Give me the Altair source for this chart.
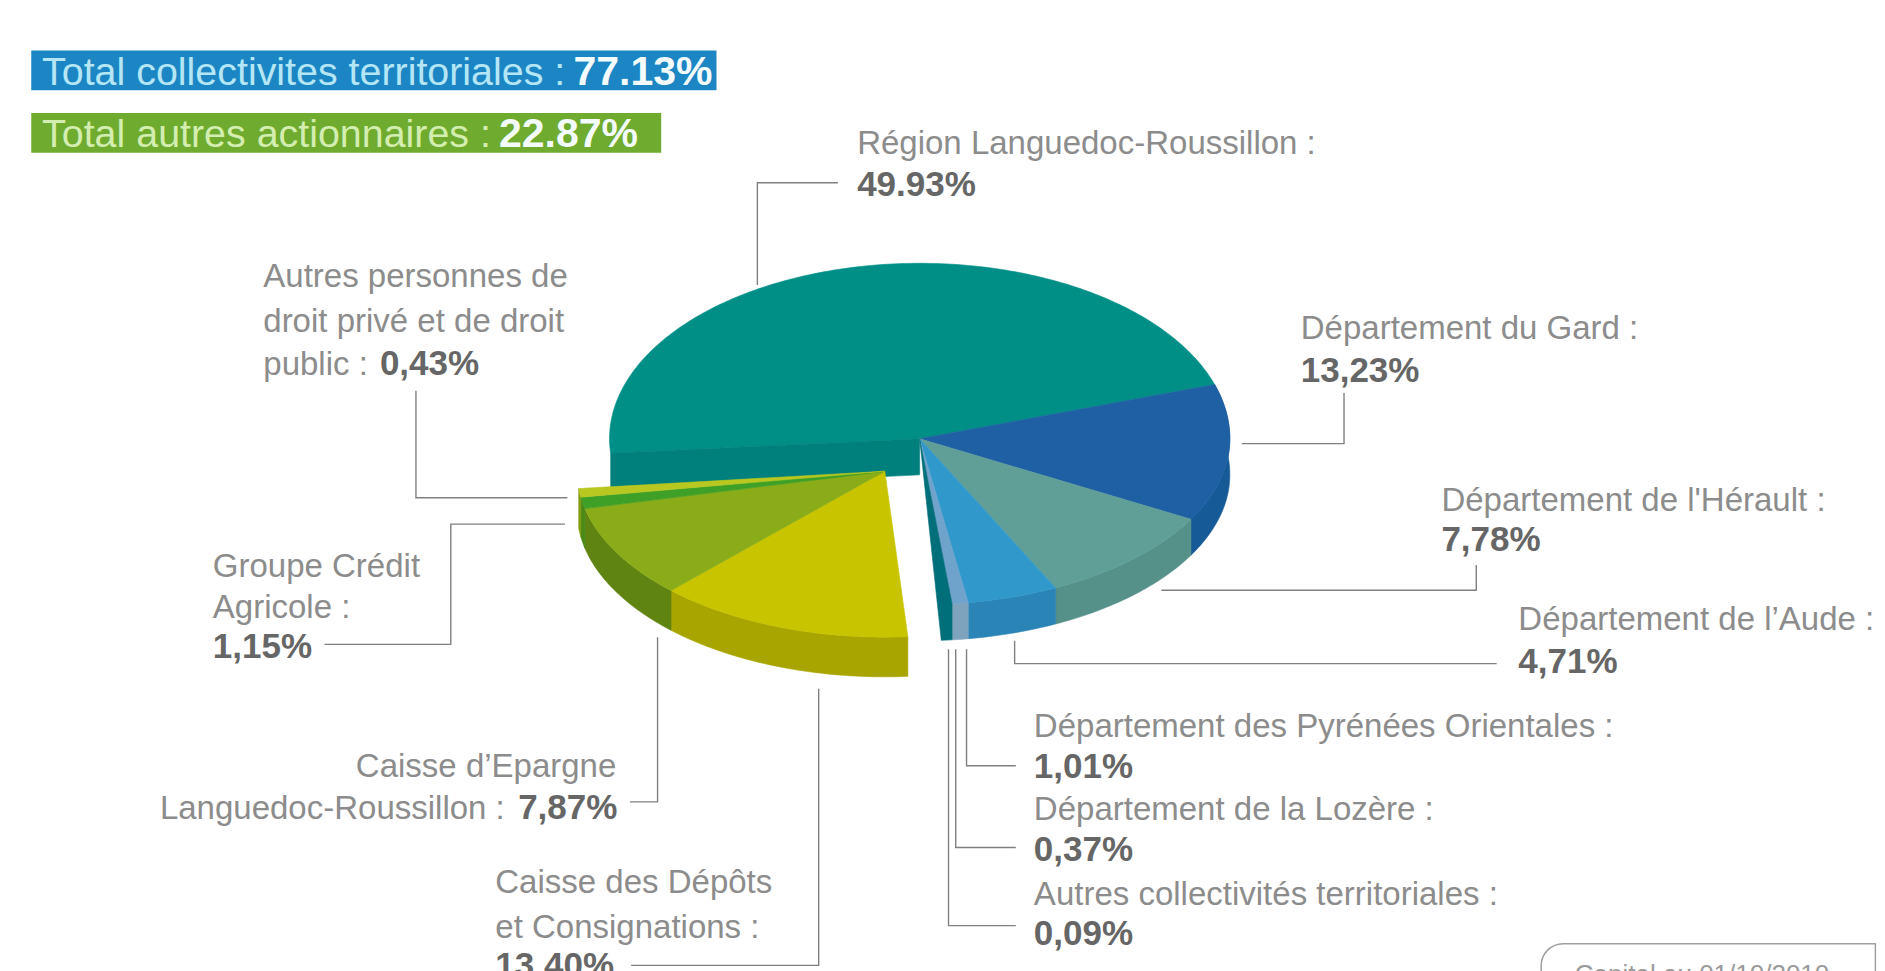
import math
import altair as alt
import pandas as pd

S = 1885 / 1568
W, H = 1869, 963
xs = alt.Scale(domain=[8 / S, (8 + W) / S], range=[0, W])
ys = alt.Scale(domain=[8 / S, (8 + H) / S], range=[0, H])

# Pie geometry (in 1568-wide picture units)
MAIN = dict(cx=765, cy=365, rx=258, up=146, down=138, depth=30)
PULLED = dict(cx=736, cy=392, rx=256, up=146, down=138, depth=33)

main_names = ["Région Languedoc-Roussillon", "Département du Gard", "Département de l'Hérault",
              "Département de l'Aude", "Département des Pyrénées Orientales"]
main_from = [18, -29, -64, -81, -84]
main_to = [185, 18, -29, -64, -81]
main_top = ["#008f86", "#1f60a4", "#5f9f98", "#3198cc", "#6fa3cb"]
main_wall = ["#00807c", "#175a98", "#559089", "#2a84b6", "#7ea3bd"]

pulled_names = ["Caisse des Dépôts", "Caisse d'Epargne", "Groupe Crédit Agricole", "Autres personnes"]
pulled_from = [-134, -167, -171, -174]
pulled_to = [-85.7, -134, -167, -171]
pulled_top = ["#c8c400", "#8aac18", "#3fa028", "#b9c820"]
pulled_wall = ["#a8a400", "#5f8412", "#4a8a18", "#7f9a10"]

CUT_TEAL = "#006f7a"
TEAL_FACE = "#00807c"


def rim(g, t, drop=0.0):
    r = math.radians(t)
    s = math.sin(r)
    return [g["cx"] + g["rx"] * math.cos(r),
            g["cy"] - (g["up"] if s > 0 else g["down"]) * s + drop]


def arc(g, a, b, drop=0.0):
    n = max(2, int(abs(b - a)) + 1)
    return [rim(g, a + (b - a) * i / (n - 1), drop) for i in range(n)]


def feature(points, color):
    ring = [list(p) for p in points] + [list(points[0])]
    return {"type": "Feature", "properties": {"color": color},
            "geometry": {"type": "Polygon", "coordinates": [ring]}}


features = []
apex = [MAIN["cx"], MAIN["cy"]]
apex_low = [MAIN["cx"], MAIN["cy"] + MAIN["depth"]]
d = MAIN["depth"]
# back slice and its cut face
features.append(feature([apex] + arc(MAIN, main_from[0], main_to[0]), main_top[0]))
features.append(feature([apex, rim(MAIN, 185), rim(MAIN, 185, d), apex_low], TEAL_FACE))
for a, b, c in zip(main_from[1:], main_to[1:], main_wall[1:]):
    features.append(feature(arc(MAIN, a, b) + arc(MAIN, b, a, d), c))
for a, b, c in zip(main_from[1:], main_to[1:], main_top[1:]):
    features.append(feature([apex] + arc(MAIN, a, b), c))
features.append(feature([apex, rim(MAIN, -84), rim(MAIN, -84, d), rim(MAIN, -86, d)], CUT_TEAL))

papex = [PULLED["cx"], PULLED["cy"]]
pd_ = PULLED["depth"]
for a, b, c in zip(pulled_from, pulled_to, pulled_wall):
    features.append(feature(arc(PULLED, a, b) + arc(PULLED, b, a, pd_), c))
for a, b, c in zip(pulled_from, pulled_to, pulled_top):
    features.append(feature([papex] + arc(PULLED, a, b), c))

# Banners
banner_x = [26, 26]
banner_x2 = [596, 550]
banner_y = [42, 94]
banner_y2 = [75, 127]
banner_fill = ["#1c86c4", "#6fab2e"]

# Leader lines
leaders = [
    [(697, 152), (630, 152), (630, 237)],
    [(1033, 369), (1118, 369), (1118, 327)],
    [(966, 491), (1228, 491), (1228, 470)],
    [(844, 533), (844, 552), (1245, 552)],
    [(804, 540), (804, 637), (845, 637)],
    [(795, 540), (795, 705), (845, 705)],
    [(789, 540), (789, 770), (845, 770)],
    [(346, 325), (346, 414), (472, 414)],
    [(470, 436), (375, 436), (375, 536), (270, 536)],
    [(547, 530), (547, 667), (524, 667)],
    [(681, 573), (681, 803), (525, 803)],
]

# Text
reg_text = ["Région Languedoc-Roussillon :", "Département du Gard :", "Département de l'Hérault :",
            "Département de l’Aude :", "Département des Pyrénées Orientales :",
            "Département de la Lozère :", "Autres collectivités territoriales :",
            "Autres personnes de", "droit privé et de droit", "public :",
            "Groupe Crédit", "Agricole :", "Caisse d’Epargne", "Languedoc-Roussillon :",
            "Caisse des Dépôts", "et Consignations :"]
reg_x = [713, 1082, 1199, 1263, 860, 860, 860, 219, 219, 219, 177, 177, 296, 133, 412, 412]
reg_y = [128, 282, 425, 524, 613, 682, 753, 239, 276, 312, 480, 514, 646, 681, 743, 780]
bold_text = ["49.93%", "13,23%", "7,78%", "4,71%", "1,01%", "0,37%", "0,09%",
             "0,43%", "1,15%", "7,87%", "13.40%"]
bold_x = [713, 1082, 1199, 1263, 860, 860, 860, 316, 177, 431, 412]
bold_y = [163, 318, 458, 560, 647, 716, 786, 312, 547, 681, 813]

ban_text = ["Total collectivites territoriales :", "Total autres actionnaires :"]
ban_x = [35, 35]
ban_y = [71, 122]
ban_color = ["#b5e6f5", "#d3eeb0"]
ban_bold = ["77.13%", "22.87%"]
ban_bold_x = [477, 415]

note_text = ["Capital au 01/10/2010"]
note_x = [1310]
note_y = [818]

X = lambda f: alt.X(f, type="quantitative", scale=xs, axis=None)
Y = lambda f: alt.Y(f, type="quantitative", scale=ys, axis=None)

pie = alt.Chart(alt.Data(values=features)).mark_geoshape(strokeWidth=0.6).encode(
    fill=alt.Color("properties.color:N", scale=None),
    stroke=alt.Color("properties.color:N", scale=None),
).project(type="identity", scale=S, translate=[-8, -8])

banners = alt.Chart(pd.DataFrame(dict(x=banner_x, x2=banner_x2, y=banner_y, y2=banner_y2, c=banner_fill))).mark_rect().encode(
    x=X("x"), x2="x2", y=Y("y"), y2="y2", color=alt.Color("c:N", scale=None))

rows = [dict(id=i, k=j, x=p[0], y=p[1]) for i, l in enumerate(leaders) for j, p in enumerate(l)]
lines = alt.Chart(pd.DataFrame(rows)).mark_line(color="#808080", strokeWidth=1.4, clip=True).encode(
    x=X("x"), y=Y("y"), detail="id:N", order="k:Q")

FONT = "Liberation Sans"
reg = alt.Chart(pd.DataFrame(dict(x=reg_x, y=reg_y, t=reg_text))).mark_text(
    font=FONT, fontSize=33, align="left", baseline="alphabetic", color="#8c8c8c", clip=True
).encode(x=X("x"), y=Y("y"), text="t:N")
bold = alt.Chart(pd.DataFrame(dict(x=bold_x, y=bold_y, t=bold_text))).mark_text(
    font=FONT, fontSize=35, fontWeight="bold", align="left", baseline="alphabetic", color="#666666", clip=True
).encode(x=X("x"), y=Y("y"), text="t:N")
ban = alt.Chart(pd.DataFrame(dict(x=ban_x, y=ban_y, t=ban_text, c=ban_color))).mark_text(
    font=FONT, fontSize=39.4, align="left", baseline="alphabetic"
).encode(x=X("x"), y=Y("y"), text="t:N", color=alt.Color("c:N", scale=None))
banb = alt.Chart(pd.DataFrame(dict(x=ban_bold_x, y=ban_y, t=ban_bold))).mark_text(
    font=FONT, fontSize=41, fontWeight="bold", align="left", baseline="alphabetic", color="#f4fbfd"
).encode(x=X("x"), y=Y("y"), text="t:N")

note_box = alt.Chart(pd.DataFrame(dict(x=[1282], x2=[1560], y=[785], y2=[860]))).mark_rect(
    fill="white", stroke="#a0a0a0", strokeWidth=1.5, cornerRadiusTopLeft=22, clip=True
).encode(x=X("x"), x2="x2", y=Y("y"), y2="y2")
note = alt.Chart(pd.DataFrame(dict(x=note_x, y=note_y, t=note_text))).mark_text(
    font=FONT, fontSize=26, align="left", baseline="alphabetic", color="#9a9a9a", clip=True
).encode(x=X("x"), y=Y("y"), text="t:N")

chart = alt.layer(pie, banners, lines, reg, bold, ban, banb, note_box, note).properties(
    width=W, height=H, padding=0, autosize=alt.AutoSizeParams(type="none"),
    background="white",
).configure_view(stroke=None)

chart.save("out.html", embed_options={"renderer": "svg", "actions": False})
